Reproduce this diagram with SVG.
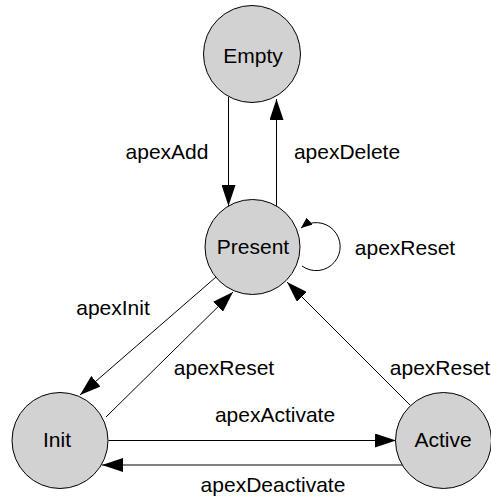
<svg xmlns="http://www.w3.org/2000/svg" width="491" height="498" viewBox="0 0 491 498">
  <style>
    .state circle { fill: #d2d2d2; stroke: #000; stroke-width: 1; }
    text { font-family: "Liberation Sans", Arial, sans-serif; font-size: 21px; fill: #000; text-anchor: middle; }
    .edge { fill: none; stroke: #000; stroke-width: 1; }
    .arrow { marker-end: url(#head); }
    .loop { marker-end: url(#smallhead); }
  </style>
  <defs>
    <marker id="head" viewBox="0 0 21 14" refX="21" refY="7" markerWidth="21" markerHeight="14" markerUnits="userSpaceOnUse" orient="auto">
      <path d="M0,0 L21,7 L0,14 z" fill="#000"/>
    </marker>
    <marker id="smallhead" viewBox="0 0 11 9" refX="11" refY="4.5" markerWidth="11" markerHeight="9" markerUnits="userSpaceOnUse" orient="auto">
      <path d="M0,0 L11,4.5 L0,9 z" fill="#000"/>
    </marker>
  </defs>

  <!-- transitions -->
  <g id="connectors">
    <line class="edge arrow" x1="228.5" y1="97" x2="228.5" y2="206"/>
    <line class="edge arrow" x1="276.5" y1="206" x2="276.5" y2="99"/>
    <path class="edge loop" d="M302,266 A24,24 0 1 0 301,228"/>
    <line class="edge arrow" x1="216" y1="277" x2="80" y2="395"/>
    <line class="edge arrow" x1="106" y1="417" x2="233" y2="292"/>
    <line class="edge arrow" x1="410" y1="405" x2="287" y2="282"/>
    <line class="edge arrow" x1="108.5" y1="440.5" x2="396" y2="440.5"/>
    <line class="edge arrow" x1="402" y1="465" x2="102" y2="465"/>
  </g>

  <!-- transition labels -->
  <g id="labels">
    <text x="167" y="159">apexAdd</text>
    <text x="347" y="159">apexDelete</text>
    <text x="405" y="255">apexReset</text>
    <text x="113" y="315">apexInit</text>
    <text x="224" y="375">apexReset</text>
    <text x="440" y="375">apexReset</text>
    <text x="275" y="422">apexActivate</text>
    <text x="273" y="492">apexDeactivate</text>
  </g>

  <!-- states -->
  <g id="empty" class="state">
    <circle cx="252" cy="54" r="48.5"/>
    <text x="253" y="63">Empty</text>
  </g>
  <g id="present" class="state">
    <circle cx="252.5" cy="247" r="47.5"/>
    <text x="253" y="254">Present</text>
  </g>
  <g id="init" class="state">
    <circle cx="60" cy="440.5" r="48"/>
    <text x="57" y="447">Init</text>
  </g>
  <g id="active" class="state">
    <circle cx="443.5" cy="440.5" r="48"/>
    <text x="443" y="447">Active</text>
  </g>
</svg>
